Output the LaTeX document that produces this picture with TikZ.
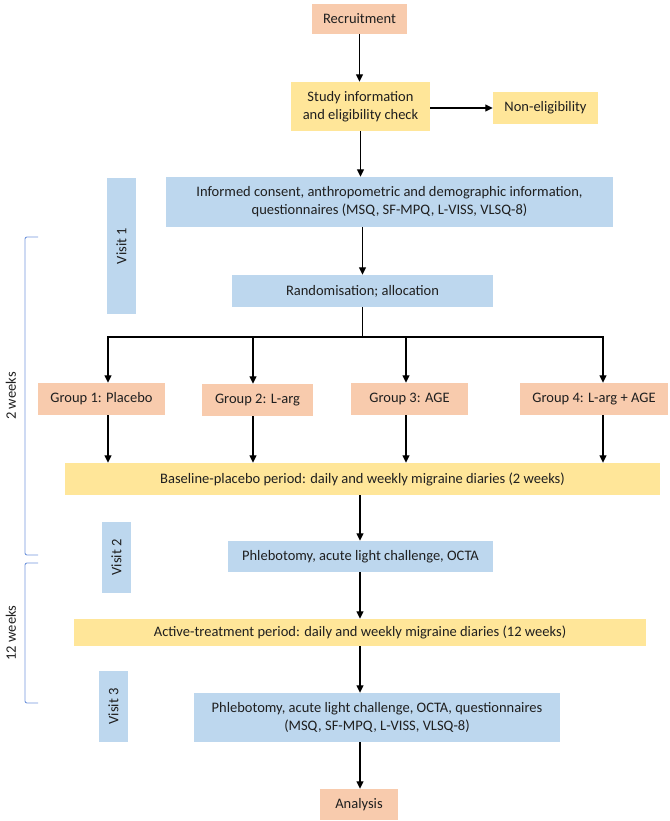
\documentclass[tikz,border=0pt]{standalone}
\usepackage{fontspec}
\setmainfont{Carlito}
\usepackage{tikz}
\usetikzlibrary{arrows.meta}

\definecolor{peach}{HTML}{F8CBAD}
\definecolor{sand}{HTML}{FFE699}
\definecolor{sky}{HTML}{BDD7EE}
\definecolor{bracecol}{HTML}{7397DC}

\tikzset{
  box/.style={inner sep=0pt, align=center, text=black!88, font=\fontsize{14.5}{18}\selectfont},
  sz/.style 2 args={minimum width=#1pt, minimum height=#2pt},
  peachbox/.style={box, fill=peach},
  sandbox/.style={box, fill=sand},
  skybox/.style={box, fill=sky},
  visitbox/.style={skybox, rotate=90},
  weeklabel/.style={rotate=90, inner sep=0pt, text=black!88, font=\fontsize{14.5}{18}\selectfont},
  flow/.style={-{Triangle[length=7.5pt,width=7pt]}, line width=1.2pt},
  bracket/.style={draw=bracecol, line width=0.9pt, rounded corners=2pt},
}

\begin{document}
\begin{tikzpicture}[x=1pt, y=-1pt]
  \useasboundingbox (0,0) rectangle (669,821);
  % Nodes
  \node[peachbox, sz={95}{30}] (recruit) at (359.5,19) {Recruitment} ; %
  \node[sandbox, sz={139}{49}] (studyinfo) at (360.5,106.5) {Study information\\and eligibility check} ; %
  \node[sandbox, sz={105}{32}] (noneligible) at (545.5,108) {Non-eligibility} ; %
  \node[skybox, sz={447}{50}] (consent) at (389.5,202) {Informed consent, anthropometric and demographic information,\\questionnaires (MSQ, SF-MPQ, L-VISS, VLSQ-8)} ; %
  \node[visitbox, sz={136}{29}] (visit1) at (121.5,246) {Visit 1} ; %
  \node[skybox, sz={261}{32}] (random) at (362.5,291) {Randomisation; allocation} ; %
  \node[peachbox, sz={127}{32}] (group1) at (101.5,399) {Group 1: Placebo} ; %
  \node[peachbox, sz={111}{32}] (group2) at (257.5,400) {Group 2: L-arg} ; %
  \node[peachbox, sz={117}{32}] (group3) at (409.5,399) {Group 3: AGE} ; %
  \node[peachbox, sz={148}{32}] (group4) at (594,399) {Group 4: L-arg + AGE} ; %
  \node[sandbox, sz={595}{32}] (baseline) at (362.5,479) {Baseline-placebo period: daily and weekly migraine diaries (2 weeks)} ; %
  \node[visitbox, sz={71}{29}] (visit2) at (116.5,557.5) {Visit 2} ; %
  \node[skybox, sz={265}{31}] (phleb1) at (360.5,556.5) {Phlebotomy, acute light challenge, OCTA} ; %
  \node[sandbox, sz={572}{27}] (active) at (360,632.5) {Active-treatment period: daily and weekly migraine diaries (12 weeks)} ; %
  \node[visitbox, sz={71}{29}] (visit3) at (113.5,706.5) {Visit 3} ; %
  \node[skybox, sz={366}{49}] (phleb2) at (377,717.5) {Phlebotomy, acute light challenge, OCTA, questionnaires\\(MSQ, SF-MPQ, L-VISS, VLSQ-8)} ; %
  \node[peachbox, sz={78}{31}] (analysis) at (359,804.5) {Analysis} ; %
  \node[weeklabel] (twoweeks) at (11,396) {2 weeks} ; %
  \node[weeklabel] (twelveweeks) at (11,633) {12 weeks} ; %

  % Split points
  \coordinate (b1) at (108,337) ; %
  \coordinate (b2) at (253,337) ; %
  \coordinate (b3) at (406,337) ; %
  \coordinate (b4) at (603,337) ; %
  \coordinate (stem) at (360,0) ; %

  % Edges
  \draw[flow] (recruit.south) -- (recruit.south |- studyinfo.north) ; %
  \draw[flow] (studyinfo.east |- noneligible.west) -- (noneligible.west) ; %
  \draw[flow] (studyinfo.south) -- (studyinfo.south |- consent.north) ; %
  \draw[flow] (random.north |- consent.south) -- (random.north) ; %
  \draw[line width=1.2pt] (random.south) -- (random.south |- b1) ; %
  \draw[line width=1.2pt, line cap=rect] (b1) -- (b4) ; %
  \foreach \i in {1,...,4} {
    \draw[flow] (b\i) -- (b\i |- group\i.north) ; %
    \draw[flow] (b\i |- group\i.south) -- (b\i |- baseline.north) ; %
  }
  \draw[flow] (stem |- baseline.south) -- (stem |- phleb1.north) ; %
  \draw[flow] (stem |- phleb1.south) -- (stem |- active.north) ; %
  \draw[flow] (stem |- active.south) -- (stem |- phleb2.north) ; %
  \draw[flow] (stem |- phleb2.south) -- (stem |- analysis.north) ; %

  % Brackets
  \draw[bracket] (38,237) -- (25,237) -- (25,555) -- (38,555) ; %
  \draw[bracket] (38,563) -- (25,563) -- (25,703) -- (38,703) ; %
\end{tikzpicture}
\end{document}
